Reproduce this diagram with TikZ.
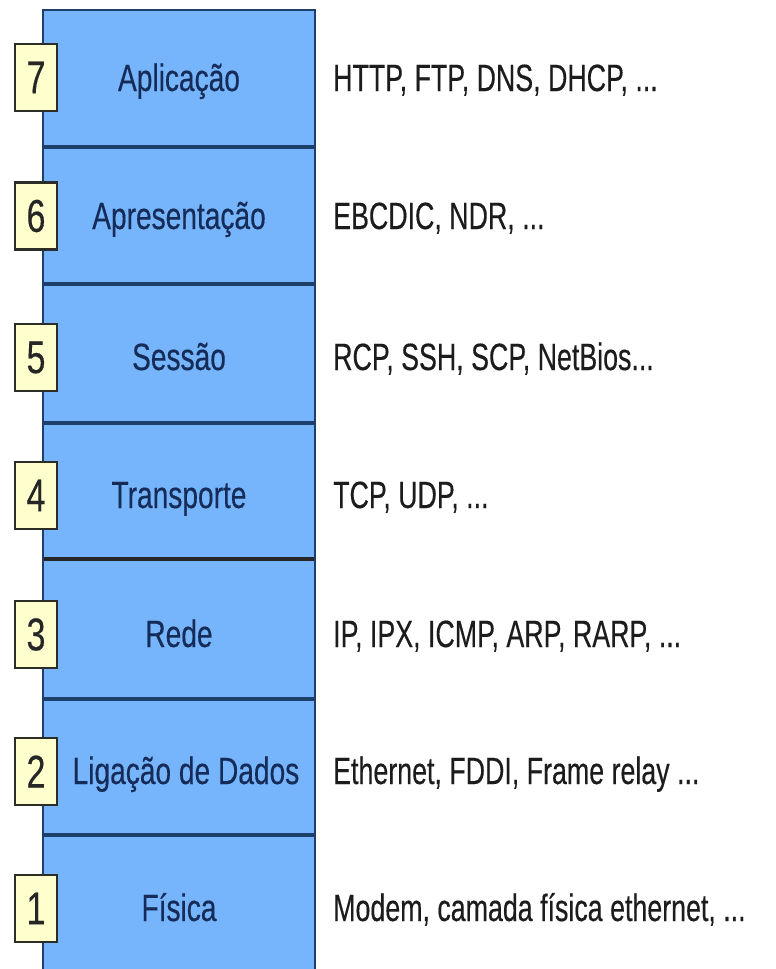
\documentclass[tikz,border=0pt]{standalone}
\usepackage{fontspec}
\setmainfont{Liberation Sans}
\newfontfamily\labfont[FakeStretch=0.74,FakeBold=0.3]{Liberation Sans}
\newfontfamily\protfont[FakeStretch=0.705,FakeBold=0.3]{Liberation Sans}
\definecolor{layerblue}{RGB}{118,181,251}
\definecolor{edgeblue}{RGB}{30,62,108}
\definecolor{labcol}{RGB}{22,44,88}
\definecolor{protcol}{RGB}{28,28,28}
\definecolor{numfill}{RGB}{255,255,206}
\definecolor{numedge}{RGB}{45,45,40}
\tikzset{
  lab/.style={anchor=base, inner sep=0pt, text=labcol, font=\labfont\fontsize{38}{40}\selectfont},
  prot/.style={anchor=base west, inner sep=0pt, text=protcol, font=\protfont\fontsize{38}{40}\selectfont},
  numbox/.style={draw=numedge, line width=2.5pt, fill=numfill, minimum width=42pt, minimum height=67pt, inner sep=0pt, text=black!85, font=\labfont\fontsize{46}{48}\selectfont},
  divider/.style={draw=edgeblue, line width=3.5pt},
  darkdivider/.style={draw=black!85, line width=4.5pt},
  outline/.style={draw=edgeblue, line width=2.5pt}
}
\begin{document}
\begin{tikzpicture}[x=1pt,y=-1pt]
\useasboundingbox (0,0) rectangle (776,969);
\clip (0,0) rectangle (776,969);
\fill[white] (0,0) rectangle (776,969);
% stack
\fill[layerblue] (43,10) rectangle (315,990);
\draw[divider] (43,147) -- (315,147);
\draw[divider] (43,284) -- (315,284);
\draw[divider] (43,423) -- (315,423);
\draw[darkdivider] (43,559) -- (315,559);
\draw[divider] (43,699) -- (315,699);
\draw[divider] (43,835) -- (315,835);
\draw[outline] (43,990) -- (43,10) -- (315,10) -- (315,990);
% layer names
\node[lab] (l7) at (179,91) {Aplicação};
\node[lab] (l6) at (179,229) {Apresentação};
\node[lab] (l5) at (179,370) {Sessão};
\node[lab] (l4) at (179,508) {Transporte};
\node[lab] (l3) at (179,647) {Rede};
\node[lab] (l2) at (186,784) {Ligação de Dados};
\node[lab] (l1) at (179,921) {Física};
% numbers
\node[numbox] (n7) at (36,77.5) {7};
\node[numbox] (n6) at (36,216) {6};
\node[numbox] (n5) at (36,357.5) {5};
\node[numbox] (n4) at (36,495.5) {4};
\node[numbox] (n3) at (36,634.5) {3};
\node[numbox] (n2) at (36,771.5) {2};
\node[numbox] (n1) at (36,908.5) {1};
% protocols
\node[prot] (p7) at (333,91) {HTTP, FTP, DNS, DHCP, ...};
\node[prot] (p6) at (333,229) {EBCDIC, NDR, ...};
\node[prot] (p5) at (333,370) {RCP, SSH, SCP, NetBios...};
\node[prot] (p4) at (333,508) {TCP, UDP, ...};
\node[prot] (p3) at (333,647) {IP, IPX, ICMP, ARP, RARP, ...};
\node[prot] (p2) at (333,784) {Ethernet, FDDI, Frame relay ...};
\node[prot] (p1) at (333,921) {Modem, camada física ethernet, ...};
\end{tikzpicture}
\end{document}
